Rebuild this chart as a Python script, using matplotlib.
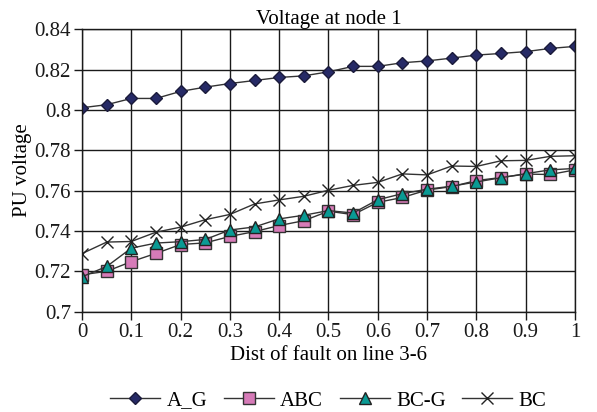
import numpy as np
import matplotlib
matplotlib.use("Agg")
import matplotlib.pyplot as plt

plt.rcParams['font.family'] = ['Liberation Serif', 'DejaVu Serif']

# distance of fault along line 3-6 (per unit)
dist = [0, 0.05, 0.1, 0.15, 0.2, 0.25, 0.3, 0.35, 0.4, 0.45, 0.5,
        0.55, 0.6, 0.65, 0.7, 0.75, 0.8, 0.85, 0.9, 0.95, 1.0]

a_g = [0.8011, 0.8026, 0.8057, 0.8057, 0.8092, 0.8113, 0.8131, 0.8146, 0.8161, 0.8169, 0.8189,
       0.8216, 0.8216, 0.8234, 0.8243, 0.8257, 0.8272, 0.8280, 0.8289, 0.8305, 0.8315]
abc = [0.7183, 0.7200, 0.7248, 0.7289, 0.7333, 0.7341, 0.7373, 0.7397, 0.7427, 0.7451, 0.7498,
       0.7481, 0.7542, 0.7566, 0.7603, 0.7620, 0.7650, 0.7665, 0.7682, 0.7680, 0.7703]
bc_g = [0.7173, 0.7224, 0.7315, 0.7340, 0.7347, 0.7358, 0.7405, 0.7420, 0.7460, 0.7478, 0.7501,
        0.7489, 0.7555, 0.7585, 0.7607, 0.7622, 0.7643, 0.7664, 0.7684, 0.7703, 0.7710]
bc = [0.7288, 0.7345, 0.7348, 0.7394, 0.7419, 0.7456, 0.7482, 0.7534, 0.7554, 0.7572, 0.7602,
      0.7626, 0.7641, 0.7683, 0.7678, 0.7722, 0.7720, 0.7748, 0.7750, 0.7770, 0.7773]

fig = plt.figure(figsize=(5.97, 4.12), dpi=100)
ax = fig.add_axes([0.1374, 0.2435, 0.8256, 0.6855])

fs = 15
line_kw = dict(color="#333333", linewidth=1.0)
ax.plot(dist, a_g, marker="D", markersize=6, markerfacecolor="#262a66",
        markeredgecolor="#1a1a3a", label="A_G", **line_kw)
ax.plot(dist, abc, marker="s", markersize=8, markerfacecolor="#d67bb8",
        markeredgecolor="#333333", label="ABC", **line_kw)
ax.plot(dist, bc_g, marker="^", markersize=8.5, markerfacecolor="#0a9a94",
        markeredgecolor="#222222", label="BC-G", **line_kw)
ax.plot(dist, bc, marker="x", markersize=8, markeredgecolor="#222222",
        markeredgewidth=1.0, label="BC", **line_kw)

ax.set_xlim(0, 1)
ax.set_ylim(0.7, 0.84)
ax.set_xticks(np.arange(0, 1.01, 0.1))
ax.set_xticklabels(["0", "0.1", "0.2", "0.3", "0.4", "0.5", "0.6", "0.7", "0.8", "0.9", "1"])
ax.set_yticks(np.arange(0.7, 0.8401, 0.02))
ax.set_yticklabels(["0.7", "0.72", "0.74", "0.76", "0.78", "0.8", "0.82", "0.84"])
ax.grid(True, color="#1a1a1a", linewidth=1.0)
ax.set_axisbelow(True)
for s in ax.spines.values():
    s.set_color("#1a1a1a")
    s.set_linewidth(1.0)
ax.tick_params(direction="out", length=6, width=1.0, labelsize=fs, colors="#1a1a1a", pad=2)

ax.set_title("Voltage at node 1", fontsize=fs, pad=2)
ax.set_xlabel("Dist of fault on line 3-6", fontsize=fs, labelpad=3)
ax.set_ylabel("PU voltage", fontsize=fs, labelpad=2)

fig.legend(loc="lower center", bbox_to_anchor=(0.55, -0.042), ncol=4, frameon=False,
           fontsize=fs, handlelength=2.4, columnspacing=0.8, handletextpad=0.3)

fig.savefig("out.png", dpi=100)
